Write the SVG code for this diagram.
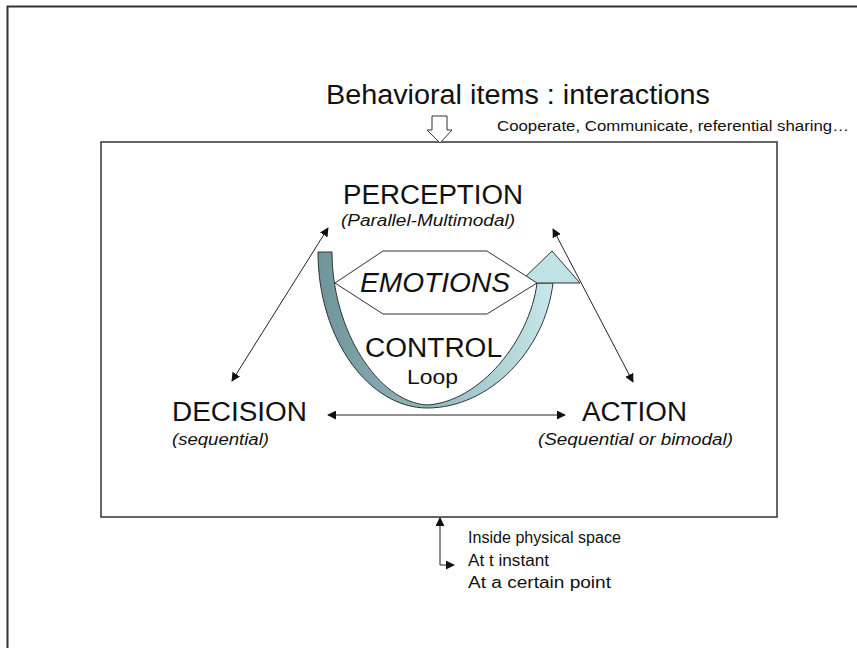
<svg xmlns="http://www.w3.org/2000/svg" width="857" height="648" viewBox="0 0 857 648">
<style>
text{font-family:"Liberation Sans",Arial,sans-serif;fill:#111}
.big{font-size:27px}
.it{font-style:italic;font-size:16px}
.sm{font-size:16px}
.ln{stroke:#222;stroke-width:1;fill:none}
</style>
<defs>
<marker id="ah" viewBox="0 0 10 10" refX="9" refY="5" markerWidth="9" markerHeight="9" markerUnits="userSpaceOnUse" orient="auto-start-reverse">
<path d="M0,0 L10,5 L0,10 z" fill="#111"/>
</marker>
<linearGradient id="loopg" x1="0" y1="0" x2="1" y2="0">
<stop offset="0" stop-color="#6f959a"/>
<stop offset="0.45" stop-color="#8fb6ba"/>
<stop offset="1" stop-color="#c8e8ea"/>
</linearGradient>
</defs>
<rect width="857" height="648" fill="#fff"/>
<rect x="7.5" y="6.5" width="900" height="700" fill="none" stroke="#333" stroke-width="2"/>
<g id="frame">
<rect x="101" y="142" width="676" height="375" fill="#fff" stroke="#333" stroke-width="1.5"/>
</g>
<g id="title">
<text x="326" y="104" font-size="27" textLength="384" lengthAdjust="spacingAndGlyphs">Behavioral items : interactions</text>
<text x="497" y="131" font-size="14" textLength="352" lengthAdjust="spacingAndGlyphs">Cooperate, Communicate, referential sharing…</text>
</g>
<g id="input-arrow">
<path d="M432,116 H447 V130 H452 L440,143 L427,130 H432 Z" fill="#fff" stroke="#333" stroke-width="1"/>
</g>
<g id="loop">
<path d="M318,252 C318,340 370,408 427,408 C490,408 545,350 553,283 L537,283 C530,340 480,402 427,405 C378,402 332,330 332,252 Z" fill="url(#loopg)" stroke="#333" stroke-width="1"/>
<path d="M519,283 L552,251 L580,283 Z" fill="#bfe2e5" stroke="#333" stroke-width="1"/>
</g>
<g id="emotions">
<path d="M335,283 L383,251 L487,251 L537,283 L487,314 L383,314 Z" fill="#fff" stroke="#333" stroke-width="1"/>
<text x="360" y="292" class="big" font-style="italic" textLength="150" lengthAdjust="spacingAndGlyphs">EMOTIONS</text>
</g>
<g id="perception">
<text x="343" y="204" class="big" textLength="180" lengthAdjust="spacingAndGlyphs">PERCEPTION</text>
<text x="341" y="226" class="it" textLength="174" lengthAdjust="spacingAndGlyphs">(Parallel-Multimodal)</text>
</g>
<g id="control">
<text x="365" y="357" class="big" textLength="137" lengthAdjust="spacingAndGlyphs">CONTROL</text>
<text x="407" y="384" font-size="20" textLength="51" lengthAdjust="spacingAndGlyphs">Loop</text>
</g>
<g id="decision">
<text x="172" y="421" class="big" textLength="135" lengthAdjust="spacingAndGlyphs">DECISION</text>
<text x="172" y="445" class="it" textLength="97" lengthAdjust="spacingAndGlyphs">(sequential)</text>
</g>
<g id="action">
<text x="582" y="421" class="big" textLength="105" lengthAdjust="spacingAndGlyphs">ACTION</text>
<text x="538" y="445" class="it" textLength="195" lengthAdjust="spacingAndGlyphs">(Sequential or bimodal)</text>
</g>
<g id="context">
<text x="468" y="543" class="sm" textLength="153" lengthAdjust="spacingAndGlyphs">Inside physical space</text>
<text x="468" y="566" class="sm" textLength="81" lengthAdjust="spacingAndGlyphs">At t instant</text>
<text x="468" y="588" class="sm" textLength="143" lengthAdjust="spacingAndGlyphs">At a certain point</text>
</g>
<g id="connectors">
<line class="ln" x1="232" y1="381" x2="328" y2="228" marker-start="url(#ah)" marker-end="url(#ah)"/>
<line class="ln" x1="553" y1="229" x2="633" y2="382" marker-start="url(#ah)" marker-end="url(#ah)"/>
<line class="ln" x1="328" y1="415" x2="565" y2="415" marker-start="url(#ah)" marker-end="url(#ah)"/>
<path class="ln" d="M440,518 V565 H454" marker-start="url(#ah)" marker-end="url(#ah)"/>
</g>
</svg>
